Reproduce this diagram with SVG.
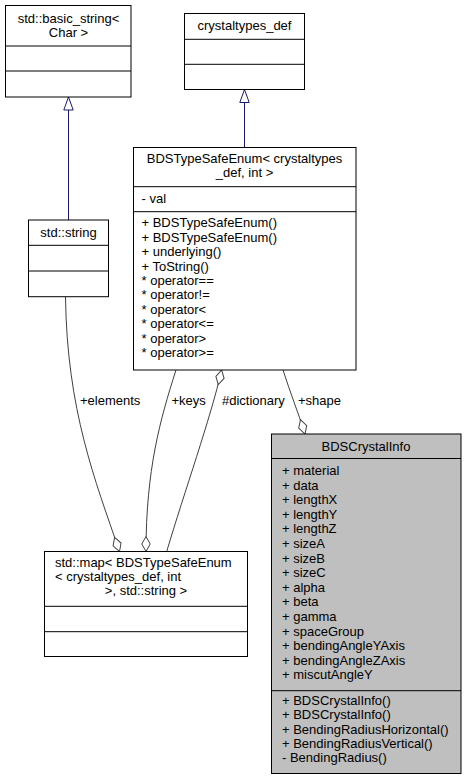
<svg xmlns="http://www.w3.org/2000/svg" width="466" height="780" viewBox="0 0 466 780">
<style>
text{font-family:"Liberation Sans",Arial,Helvetica,sans-serif;font-size:13px;fill:#000}
.c{text-anchor:middle}
.box{fill:#fff;stroke:#000;stroke-width:1}
.main{fill:#bfbfbf;stroke:#000;stroke-width:1}
.div{stroke:#000;stroke-width:1;fill:none}
.inh{fill:none;stroke:#191970;stroke-width:1;marker-end:url(#tri)}
.use{fill:none;stroke:#404040;stroke-width:1;marker-end:url(#dia)}
</style>
<defs>
<marker id="tri" markerUnits="userSpaceOnUse" markerWidth="15" markerHeight="12" viewBox="0 0 15 12" refX="13.5" refY="6" orient="auto">
<path d="M0.5,1.3 L13.5,6 L0.5,10.7 Z" fill="#fff" stroke="#191970" stroke-width="1"/>
</marker>
<marker id="dia" markerUnits="userSpaceOnUse" markerWidth="17" markerHeight="11" viewBox="0 0 17 11" refX="16" refY="5.5" orient="auto">
<path d="M1,5.5 L8.5,1.3 L16,5.5 L8.5,9.7 Z" fill="#fff" stroke="#404040" stroke-width="1"/>
</marker>
</defs>

<g id="connectors">
<path class="inh" d="M68.5,220 L68.5,97"/>
<path class="inh" d="M244.5,147.5 L244.5,89.5"/>
<path class="use" d="M65.5,297 C67,410 95,480 119.5,551.5"/>
<path class="use" d="M176,370 C160,420 146,470 146,551.5"/>
<path class="use" d="M166.7,551.5 C185,490 210,420 221.7,370"/>
<path class="use" d="M283,370 C290,392 298,412 305,434"/>
<text x="80" y="405">+elements</text>
<text x="171.5" y="405">+keys</text>
<text x="222" y="405">#dictionary</text>
<text x="298" y="405">+shape</text>
</g>

<g id="basic_string">
<rect class="box" x="5.5" y="5.5" width="125.5" height="91.5"/>
<path class="div" d="M5.5,46 H131 M5.5,71 H131"/>
<text class="c" x="68.5" y="22.5">std::basic_string&lt;</text>
<text class="c" x="68.5" y="36.5">Char &gt;</text>
</g>

<g id="crystaltypes_def">
<rect class="box" x="184.5" y="13.5" width="120" height="76"/>
<path class="div" d="M184.5,39.3 H304.5 M184.5,64.3 H304.5"/>
<text class="c" x="244.5" y="30">crystaltypes_def</text>
</g>

<g id="BDSTypeSafeEnum">
<rect class="box" x="133.5" y="147.5" width="222.5" height="222.5"/>
<path class="div" d="M133.5,186.7 H356 M133.5,211.7 H356"/>
<text class="c" x="244.5" y="163">BDSTypeSafeEnum&lt; crystaltypes</text>
<text class="c" x="244.5" y="177">_def, int &gt;</text>
<text x="141.5" y="203">- val</text>
<text x="141.5" y="227.3">+ BDSTypeSafeEnum()</text>
<text x="141.5" y="241.7">+ BDSTypeSafeEnum()</text>
<text x="141.5" y="256.1">+ underlying()</text>
<text x="141.5" y="270.5">+ ToString()</text>
<text x="141.5" y="284.9">* operator==</text>
<text x="141.5" y="299.3">* operator!=</text>
<text x="141.5" y="313.7">* operator&lt;</text>
<text x="141.5" y="328.1">* operator&lt;=</text>
<text x="141.5" y="342.5">* operator&gt;</text>
<text x="141.5" y="356.9">* operator&gt;=</text>
</g>

<g id="std_string">
<rect class="box" x="28.5" y="220" width="80" height="76.7"/>
<path class="div" d="M28.5,245.3 H108.5 M28.5,271 H108.5"/>
<text class="c" x="68.5" y="236.7">std::string</text>
</g>

<g id="std_map">
<rect class="box" x="44.5" y="551.5" width="203" height="105"/>
<path class="div" d="M44.5,606.3 H247.5 M44.5,631.7 H247.5"/>
<text x="55" y="566.7">std::map&lt; BDSTypeSafeEnum</text>
<text x="55" y="580.8">&lt; crystaltypes_def, int</text>
<text class="c" x="146" y="595">&gt;, std::string &gt;</text>
</g>

<g id="BDSCrystalInfo">
<rect class="main" x="271.5" y="434" width="189.5" height="339.5"/>
<path class="div" d="M271.5,458.5 H461 M271.5,690.7 H461"/>
<text class="c" x="366" y="450.5">BDSCrystalInfo</text>
<text x="282" y="475">+ material</text>
<text x="282" y="489.6">+ data</text>
<text x="282" y="504.2">+ lengthX</text>
<text x="282" y="518.8">+ lengthY</text>
<text x="282" y="533.4">+ lengthZ</text>
<text x="282" y="548">+ sizeA</text>
<text x="282" y="562.6">+ sizeB</text>
<text x="282" y="577.2">+ sizeC</text>
<text x="282" y="591.8">+ alpha</text>
<text x="282" y="606.4">+ beta</text>
<text x="282" y="621">+ gamma</text>
<text x="282" y="635.6">+ spaceGroup</text>
<text x="282" y="650.2">+ bendingAngleYAxis</text>
<text x="282" y="664.8">+ bendingAngleZAxis</text>
<text x="282" y="679.4">+ miscutAngleY</text>
<text x="282" y="705">+ BDSCrystalInfo()</text>
<text x="282" y="719.3">+ BDSCrystalInfo()</text>
<text x="282" y="733.6">+ BendingRadiusHorizontal()</text>
<text x="282" y="747.9">+ BendingRadiusVertical()</text>
<text x="282" y="762.2">- BendingRadius()</text>
</g>
</svg>
